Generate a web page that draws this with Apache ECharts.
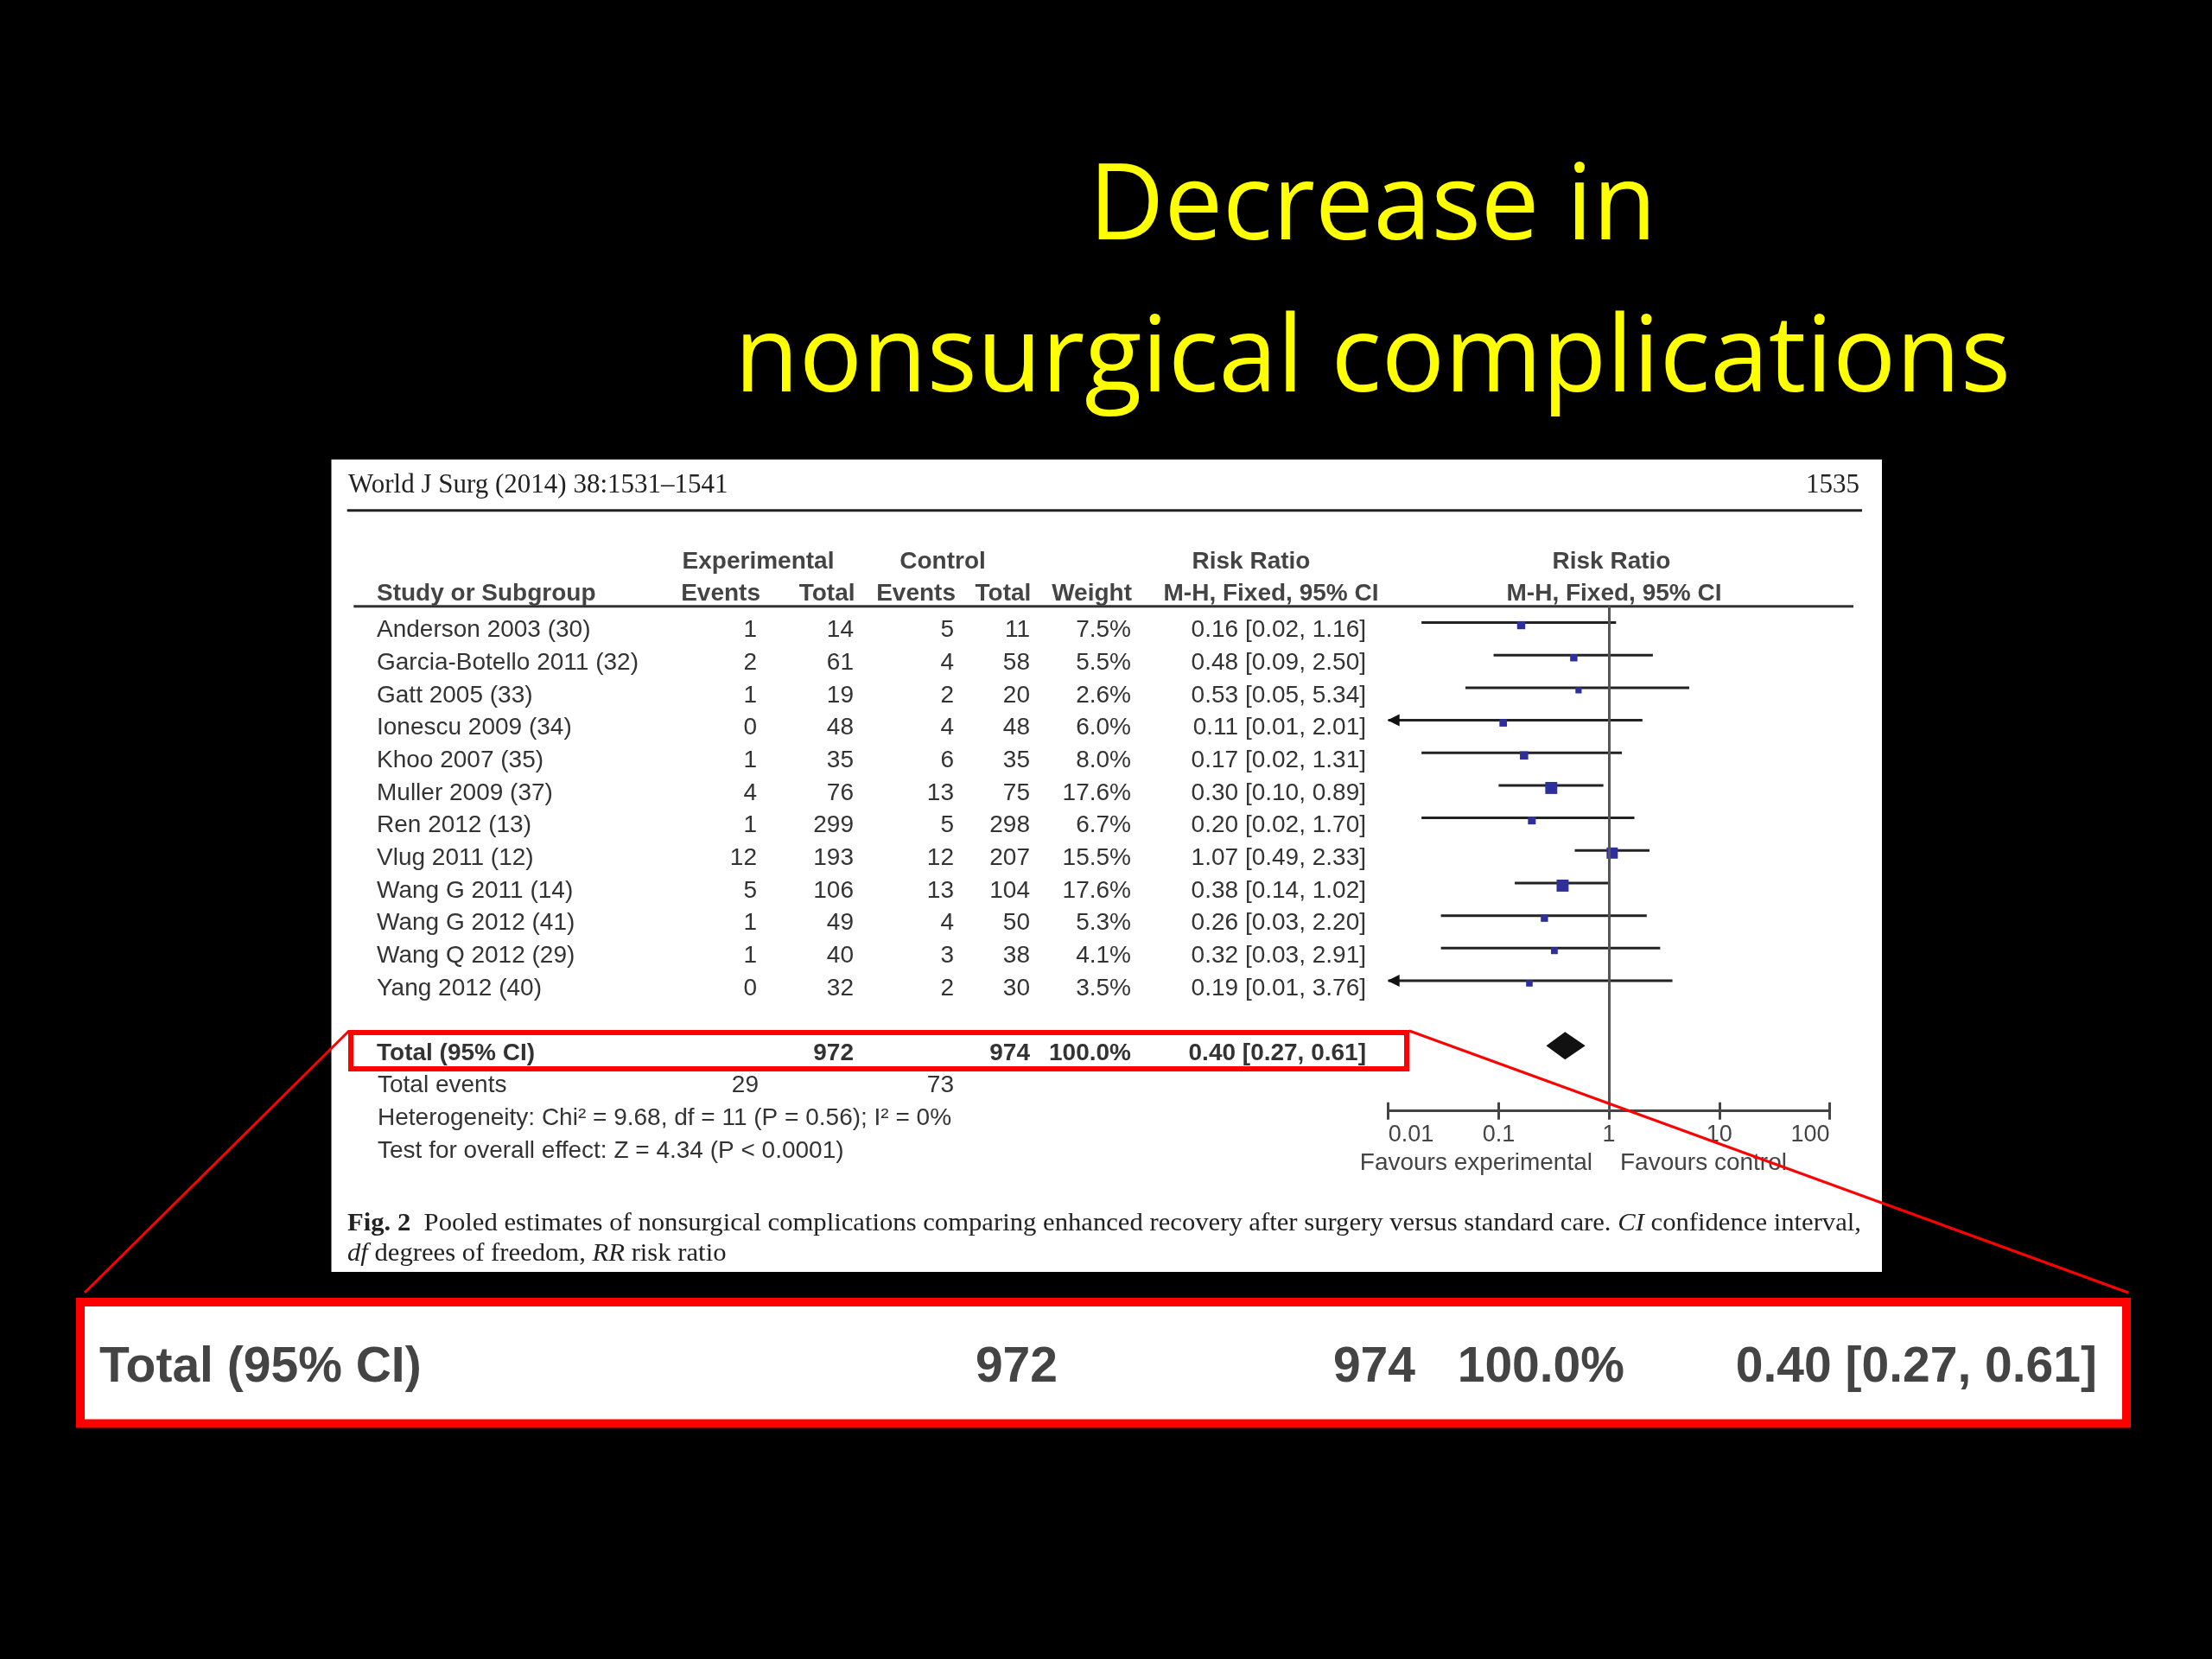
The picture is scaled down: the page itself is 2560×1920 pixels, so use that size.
<!DOCTYPE html>
<html>
<head>
<meta charset="utf-8">
<style>
html,body{margin:0;padding:0;background:#000;}
#chart{width:2560px;height:1920px;}
</style>
<script src="https://cdn.jsdelivr.net/npm/echarts@6/dist/echarts.min.js"></script>
</head>
<body>
<div id="chart"></div>
<script>
// ---------------- data ----------------
const studies = ['Anderson 2003 (30)', 'Garcia-Botello 2011 (32)', 'Gatt 2005 (33)', 'Ionescu 2009 (34)',
  'Khoo 2007 (35)', 'Muller 2009 (37)', 'Ren 2012 (13)', 'Vlug 2011 (12)', 'Wang G 2011 (14)',
  'Wang G 2012 (41)', 'Wang Q 2012 (29)', 'Yang 2012 (40)'];
const expEvents = [1, 2, 1, 0, 1, 4, 1, 12, 5, 1, 1, 0];
const expTotal = [14, 61, 19, 48, 35, 76, 299, 193, 106, 49, 40, 32];
const ctlEvents = [5, 4, 2, 4, 6, 13, 5, 12, 13, 4, 3, 2];
const ctlTotal = [11, 58, 20, 48, 35, 75, 298, 207, 104, 50, 38, 30];
const weights = [7.5, 5.5, 2.6, 6.0, 8.0, 17.6, 6.7, 15.5, 17.6, 5.3, 4.1, 3.5];
const rr = [0.16, 0.48, 0.53, 0.11, 0.17, 0.30, 0.20, 1.07, 0.38, 0.26, 0.32, 0.19];
const ciLow = [0.02, 0.09, 0.05, 0.01, 0.02, 0.10, 0.02, 0.49, 0.14, 0.03, 0.03, 0.01];
const ciHigh = [1.16, 2.50, 5.34, 2.01, 1.31, 0.89, 1.70, 2.33, 1.02, 2.20, 2.91, 3.76];
const totalLabel = 'Total (95% CI)';
const totalExp = 972;
const totalCtl = 974;
const totalWeight = 100.0;
const totalRR = [0.40, 0.27, 0.61]; // estimate, low, high
const totalEvents = [29, 73];
const heterogeneity = 'Heterogeneity: Chi\u00B2 = 9.68, df = 11 (P = 0.56); I\u00B2 = 0%';
const overallEffect = 'Test for overall effect: Z = 4.34 (P < 0.0001)';
const xTickLabels = ['0.01', '0.1', '1', '10', '100'];
const titleLines = ['Decrease in', 'nonsurgical complications'];

// ---------------- layout ----------------
const TOTAL_ROW = 13;
const X_MIN = 0.01, X_MAX = 100;
const gridLeft = 1606.7, gridTop = 701.7, gridW = 510.8, gridH = 584;
const SANS = '"Liberation Sans", Arial, sans-serif';
const SERIF = '"Liberation Serif", "Times New Roman", serif';
const RED = '#ff0000';
const BODY = 28;   // table body font size
const HEAD = 28;   // bold header font size

const fmt2 = v => v.toFixed(2);
const rrText = (e, l, h) => fmt2(e) + ' [' + fmt2(l) + ', ' + fmt2(h) + ']';
const rowVals = studies.map((_, i) => i).concat([TOTAL_ROW]);

const measureCtx = document.createElement('canvas').getContext('2d');
function measure(text, font) { measureCtx.font = font; return measureCtx.measureText(text).width; }

function colAxis(xPos, texts, totalText, alignLeft) {
  return {
    type: 'value', gridIndex: 0, min: -0.5, max: 15, inverse: true, position: 'left',
    offset: gridLeft - xPos,
    axisLine: { show: false, onZero: false }, axisTick: { show: false }, splitLine: { show: false },
    axisLabel: {
      show: true, customValues: rowVals, margin: 0,
      align: alignLeft ? 'left' : 'right', verticalAlign: 'middle',
      padding: [18, 0, 0, 0], color: '#333', fontSize: BODY, fontFamily: SANS,
      formatter: v => {
        const k = Math.round(v);
        if (k === TOTAL_ROW) return totalText === '' ? '' : '{b|' + totalText + '}';
        return texts[k] === undefined ? '' : String(texts[k]);
      },
      rich: { b: { fontWeight: 'bold', fontSize: HEAD, color: '#333', fontFamily: SANS } }
    }
  };
}

function txt(x, y, text, o) {
  o = o || {};
  const align = o.align || 'left';
  const el = {
    type: 'text', x: x, y: y, z: o.z || 10,
    style: {
      text: text,
      font: o.font || (BODY + 'px ' + SANS),
      fill: o.fill || '#333',
      textAlign: align, align: align,
      textVerticalAlign: 'middle', verticalAlign: 'middle'
    }
  };
  if (o.rich) el.style.rich = o.rich;
  if (o.scaleX) el.scaleX = o.scaleX;
  return el;
}

// title scaling to match reference widths
const titleFont = '122px "Open Sans", Lato, sans-serif';
const titleTargets = [657, 1477];
const titleScale = titleLines.map((t, i) => titleTargets[i] / measure(t, titleFont));

// caption
const capFontSize = 30;
const capReg = capFontSize + 'px ' + SERIF;
const capLine1Parts = [['b', 'Fig. 2'], ['r', '  Pooled estimates of nonsurgical complications comparing enhanced recovery after surgery versus standard care. '], ['i', 'CI'], ['r', ' confidence interval,']];
const capLine2Parts = [['i', 'df'], ['r', ' degrees of freedom, '], ['i', 'RR'], ['r', ' risk ratio']];
const capFonts = { b: 'bold ' + capReg, r: capReg, i: 'italic ' + capReg };
const capW1 = capLine1Parts.reduce((s, p) => s + measure(p[1], capFonts[p[0]]), 0);
const capScale = 1752 / capW1;
const capRich = {
  b: { fontFamily: SERIF, fontSize: capFontSize, fontWeight: 'bold', fill: '#222', color: '#222' },
  r: { fontFamily: SERIF, fontSize: capFontSize, fill: '#222', color: '#222' },
  i: { fontFamily: SERIF, fontSize: capFontSize, fontStyle: 'italic', fill: '#222', color: '#222' }
};
const richStr = parts => parts.map(p => '{' + p[0] + '|' + p[1] + '}').join('');

const bigFont = 'bold 57px ' + SANS;
const headFont = 'bold ' + HEAD + 'px ' + SANS;
const bigY = 1583;

const graphics = [
  // white paper panel
  { type: 'rect', z: -10, shape: { x: 383.5, y: 531.7, width: 1794.5, height: 940.3 }, style: { fill: '#ffffff' } },
  // title
  txt(1588.5, 242, titleLines[0], { font: titleFont, fill: '#ffff00', align: 'center', scaleX: titleScale[0] }),
  txt(1588.5, 418, titleLines[1], { font: titleFont, fill: '#ffff00', align: 'center', scaleX: titleScale[1] }),
  // journal header
  txt(403, 562, 'World J Surg (2014) 38:1531\u20131541', { font: '31px ' + SERIF, fill: '#222' }),
  txt(2152, 562, '1535', { font: '31px ' + SERIF, fill: '#222', align: 'right' }),
  { type: 'line', z: 5, shape: { x1: 401.7, y1: 590.7, x2: 2155, y2: 590.7 }, style: { stroke: '#222', lineWidth: 3 } },
  // table header
  txt(877.5, 650, 'Experimental', { font: headFont, fill: '#444', align: 'center' }),
  txt(1091, 650, 'Control', { font: headFont, fill: '#444', align: 'center' }),
  txt(1448, 650, 'Risk Ratio', { font: headFont, fill: '#444', align: 'center' }),
  txt(1865, 650, 'Risk Ratio', { font: headFont, fill: '#444', align: 'center' }),
  txt(436, 687, 'Study or Subgroup', { font: headFont, fill: '#444' }),
  txt(880, 687, 'Events', { font: headFont, fill: '#444', align: 'right' }),
  txt(989.5, 687, 'Total', { font: headFont, fill: '#444', align: 'right' }),
  txt(1106, 687, 'Events', { font: headFont, fill: '#444', align: 'right' }),
  txt(1193.4, 687, 'Total', { font: headFont, fill: '#444', align: 'right' }),
  txt(1310, 687, 'Weight', { font: headFont, fill: '#444', align: 'right' }),
  txt(1471, 687, 'M-H, Fixed, 95% CI', { font: headFont, fill: '#444', align: 'center' }),
  txt(1868, 687, 'M-H, Fixed, 95% CI', { font: headFont, fill: '#444', align: 'center' }),
  { type: 'line', z: 5, shape: { x1: 409.3, y1: 701.7, x2: 2145, y2: 701.7 }, style: { stroke: '#333', lineWidth: 3 } },
  // footer rows
  txt(437, 1256, 'Total events'),
  txt(878, 1256, String(totalEvents[0]), { align: 'right' }),
  txt(1104, 1256, String(totalEvents[1]), { align: 'right' }),
  txt(437, 1294, heterogeneity),
  txt(437, 1332, overallEffect),
  // favours
  txt(1843, 1346, 'Favours experimental', { fill: '#444', align: 'right' }),
  txt(1875, 1346, 'Favours control', { fill: '#444' }),
  // caption
  txt(402, 1416, richStr(capLine1Parts), { rich: capRich, scaleX: capScale, fill: '#222' }),
  txt(402, 1451, richStr(capLine2Parts), { rich: capRich, scaleX: capScale, fill: '#222' }),
  // red highlight
  { type: 'rect', z: 100, shape: { x: 406, y: 1195, width: 1222, height: 42 }, style: { fill: 'none', stroke: RED, lineWidth: 6 } },
  { type: 'line', z: 100, shape: { x1: 404, y1: 1193, x2: 98, y2: 1496 }, style: { stroke: RED, lineWidth: 3 } },
  { type: 'line', z: 100, shape: { x1: 1631, y1: 1193, x2: 2463, y2: 1496 }, style: { stroke: RED, lineWidth: 3 } },
  { type: 'rect', z: 100, shape: { x: 93, y: 1507, width: 2368, height: 140.5 }, style: { fill: '#ffffff', stroke: RED, lineWidth: 10 } },
  txt(115, bigY, totalLabel, { font: bigFont, fill: '#444', z: 101 }),
  txt(1224, bigY, String(totalExp), { font: bigFont, fill: '#444', align: 'right', z: 101 }),
  txt(1638, bigY, String(totalCtl), { font: bigFont, fill: '#444', align: 'right', z: 101 }),
  txt(1880, bigY, totalWeight.toFixed(1) + '%', { font: bigFont, fill: '#444', align: 'right', z: 101 }),
  txt(2427, bigY, rrText(totalRR[0], totalRR[1], totalRR[2]), { font: bigFont, fill: '#444', align: 'right', z: 101 })
];

const xAxisBase = {
  type: 'log', logBase: 10, min: X_MIN, max: X_MAX, gridIndex: 0, position: 'bottom',
  splitLine: { show: false }, minorTick: { show: false }
};

const option = {
  backgroundColor: '#000000',
  animation: false,
  grid: { left: gridLeft, top: gridTop, width: gridW, height: gridH, containLabel: false },
  xAxis: [
    Object.assign({}, xAxisBase, {
      axisLine: { show: true, onZero: false, lineStyle: { color: '#444', width: 3 } },
      axisTick: { show: true, length: 10, lineStyle: { color: '#444', width: 3 } },
      axisLabel: {
        color: '#444', fontSize: 27, fontFamily: SANS, margin: 14,
        alignMinLabel: 'left', alignMaxLabel: 'right',
        formatter: v => xTickLabels[Math.round(Math.log10(v)) - Math.round(Math.log10(X_MIN))]
      }
    }),
    Object.assign({}, xAxisBase, {
      axisLine: { show: false, onZero: false },
      axisTick: { show: true, inside: true, length: 10, lineStyle: { color: '#444', width: 3 } },
      axisLabel: { show: false }
    })
  ],
  yAxis: [
    { type: 'value', gridIndex: 0, min: -0.5, max: 15, inverse: true, show: false, axisLine: { onZero: false } },
    colAxis(436, studies, totalLabel, true),
    colAxis(876, expEvents, ''),
    colAxis(988, expTotal, String(totalExp)),
    colAxis(1104, ctlEvents, ''),
    colAxis(1192, ctlTotal, String(totalCtl)),
    colAxis(1309, weights.map(w => w.toFixed(1) + '%'), totalWeight.toFixed(1) + '%'),
    colAxis(1581, studies.map((_, i) => rrText(rr[i], ciLow[i], ciHigh[i])), rrText(totalRR[0], totalRR[1], totalRR[2]))
  ],
  graphic: { elements: graphics },
  series: [
    {
      type: 'custom', name: 'ci', xAxisIndex: 0, yAxisIndex: 0, clip: false, silent: true,
      data: studies.map((_, i) => [ciLow[i], ciHigh[i], i]),
      encode: { x: [0, 1], y: 2 },
      renderItem: (params, api) => {
        const lo = api.value(0), hi = api.value(1), row = api.value(2);
        const p1 = api.coord([Math.max(lo, X_MIN), row]);
        const p2 = api.coord([Math.min(hi, X_MAX), row]);
        const children = [{
          type: 'line', shape: { x1: p1[0], y1: p1[1], x2: p2[0], y2: p2[1] },
          style: { stroke: '#222', lineWidth: 3 }
        }];
        if (lo <= X_MIN) {
          children.push({
            type: 'polygon',
            shape: { points: [[p1[0] - 1, p1[1]], [p1[0] + 13, p1[1] - 7], [p1[0] + 13, p1[1] + 7]] },
            style: { fill: '#111' }
          });
        }
        return { type: 'group', children: children };
      }
    },
    {
      type: 'scatter', name: 'rr', xAxisIndex: 0, yAxisIndex: 0, silent: true, z: 4,
      symbol: 'rect', symbolOffset: [0, 3],
      symbolSize: v => 6 + 0.45 * v[2],
      itemStyle: { color: '#2f2f9c', opacity: 1 },
      data: studies.map((_, i) => [rr[i], i, weights[i]]),
      markLine: {
        silent: true, symbol: ['none', 'none'], label: { show: false },
        lineStyle: { color: '#555', width: 3, type: 'solid' },
        data: [{ xAxis: 1 }]
      }
    },
    {
      type: 'custom', name: 'total', xAxisIndex: 0, yAxisIndex: 0, clip: false, silent: true,
      data: [[totalRR[1], totalRR[0], totalRR[2], TOTAL_ROW]],
      encode: { x: [0, 1, 2], y: 3 },
      renderItem: (params, api) => {
        const row = api.value(3);
        const pl = api.coord([api.value(0), row]);
        const pc = api.coord([api.value(1), row]);
        const pr = api.coord([api.value(2), row]);
        return {
          type: 'polygon',
          shape: { points: [[pl[0], pl[1]], [pc[0], pc[1] - 16], [pr[0], pr[1]], [pc[0], pc[1] + 16]] },
          style: { fill: '#111' }
        };
      }
    }
  ]
};

const chart = echarts.init(document.getElementById('chart'), null, { renderer: 'canvas', width: 2560, height: 1920 });
chart.setOption(option);
</script>
</body>
</html>
